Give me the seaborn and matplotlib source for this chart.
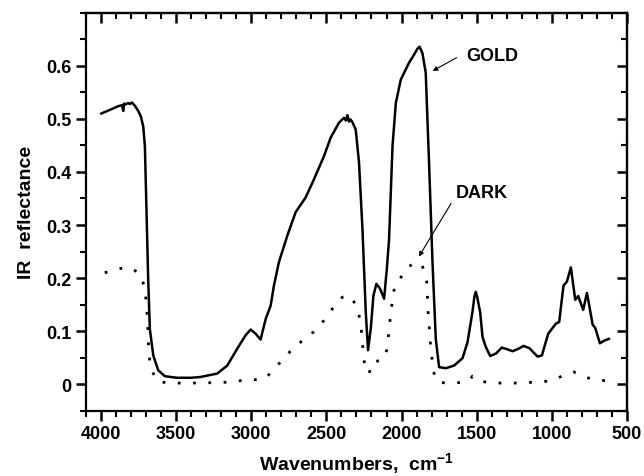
import matplotlib
matplotlib.use("Agg")
import matplotlib.pyplot as plt
from matplotlib.ticker import MultipleLocator, FixedLocator, FuncFormatter
import seaborn as sns

# spectra (wavenumber in cm-1, reflectance)
gold_wn = [4000, 3941, 3885, 3860, 3852, 3847, 3840, 3820, 3808, 3795, 3775, 3752, 3735,
           3719, 3708, 3697, 3686, 3675, 3652, 3619, 3575, 3497, 3400, 3337, 3226, 3160,
           3093, 3038, 3004, 2971, 2938, 2904, 2871, 2849, 2816, 2760, 2705, 2638, 2583,
           2516, 2471, 2416, 2383, 2370, 2360, 2350, 2340, 2327, 2305, 2283, 2260, 2238,
           2223, 2205, 2187, 2167, 2143, 2116, 2098, 2083, 2060, 2038, 2005, 1950, 1917,
           1895, 1880, 1861, 1839, 1817, 1794, 1772, 1750, 1705, 1650, 1594, 1561, 1528,
           1515, 1506, 1497, 1477, 1461, 1439, 1410, 1370, 1333, 1300, 1261, 1220, 1188,
           1150, 1095, 1066, 1024, 973, 951, 922, 900, 873, 844, 824, 791, 766, 728, 711,
           680, 651, 618]
gold_r = [0.510, 0.517, 0.524, 0.526, 0.515, 0.529, 0.527, 0.530, 0.528, 0.531, 0.525,
          0.515, 0.505, 0.486, 0.449, 0.324, 0.198, 0.104, 0.054, 0.026, 0.015, 0.012,
          0.012, 0.0135, 0.020, 0.035, 0.067, 0.092, 0.103, 0.095, 0.084, 0.123, 0.148,
          0.186, 0.230, 0.280, 0.324, 0.352, 0.386, 0.430, 0.465, 0.493, 0.502, 0.497,
          0.507, 0.495, 0.499, 0.494, 0.480, 0.418, 0.292, 0.136, 0.064, 0.104, 0.167,
          0.189, 0.180, 0.161, 0.217, 0.273, 0.449, 0.530, 0.574, 0.606, 0.621, 0.632,
          0.636, 0.624, 0.587, 0.418, 0.230, 0.085, 0.032, 0.030, 0.035, 0.049, 0.079,
          0.136, 0.165, 0.174, 0.165, 0.136, 0.089, 0.070, 0.053, 0.058, 0.069, 0.066,
          0.062, 0.067, 0.072, 0.068, 0.052, 0.054, 0.095, 0.114, 0.117, 0.186, 0.193,
          0.220, 0.159, 0.166, 0.140, 0.172, 0.112, 0.106, 0.077, 0.082, 0.0855]

dark_wn = [3975, 3897, 3841, 3786, 3735, 3708, 3697, 3690, 3684, 3675, 3657, 3624, 3542,
           3400, 3200, 3100, 3026, 2942, 2900, 2871, 2804, 2733, 2660, 2587, 2516, 2460,
           2393, 2334, 2294, 2272, 2260, 2245, 2216, 2194, 2127, 2094, 2083, 2065, 2045,
           2005, 1961, 1905, 1861, 1832, 1823, 1805, 1787, 1761, 1700, 1600, 1550, 1528,
           1500, 1480, 1400, 1200, 1006, 933, 855, 780, 713, 640, 610]
dark_r = [0.210, 0.216, 0.220, 0.217, 0.205, 0.180, 0.148, 0.117, 0.073, 0.042, 0.023,
          0.005, 0.002, 0.002, 0.003, 0.005, 0.009, 0.008, 0.012, 0.022, 0.042, 0.064,
          0.082, 0.098, 0.120, 0.142, 0.164, 0.165, 0.142, 0.117, 0.076, 0.032, 0.020,
          0.042, 0.045, 0.067, 0.104, 0.148, 0.186, 0.201, 0.220, 0.230, 0.223, 0.192,
          0.136, 0.067, 0.023, 0.004, 0.002, 0.003, 0.006, 0.015, 0.012, 0.006, 0.002,
          0.002, 0.006, 0.015, 0.023, 0.0135, 0.008, 0.0065, 0.007]

y_ticks = [0, 0.1, 0.2, 0.3, 0.4, 0.5, 0.6]
y_minor = [-0.05, 0.05, 0.15, 0.25, 0.35, 0.45, 0.55, 0.65, 0.7]

sns.set_style("ticks")
plt.rcParams["font.family"] = ["Liberation Sans", "DejaVu Sans"]
plt.rcParams["font.weight"] = "bold"
plt.rcParams["text.color"] = "black"
plt.rcParams["mathtext.fontset"] = "custom"
plt.rcParams["mathtext.rm"] = "Liberation Sans:bold"
plt.rcParams["mathtext.default"] = "rm"

fig = plt.figure(figsize=(6.44, 4.77), dpi=100)
ax = fig.add_axes([0.1335, 0.137, 0.84, 0.834])

sns.lineplot(x=gold_wn, y=gold_r, ax=ax, color="black", lw=1.8, sort=False)
sns.lineplot(x=dark_wn, y=dark_r, ax=ax, color="black", lw=2.0, sort=False,
             linestyle=(0, (1, 4.5)))

ax.set_xlim(4100, 500)
ax.set_ylim(-0.05, 0.7)

# ticks: outward on left/bottom, inward on top/right
ax.xaxis.set_major_locator(MultipleLocator(500))
ax.xaxis.set_minor_locator(MultipleLocator(100))
ax.yaxis.set_major_locator(FixedLocator(y_ticks))
ax.yaxis.set_minor_locator(FixedLocator(y_minor))
ax.yaxis.set_major_formatter(FuncFormatter(lambda v, p: "0" if abs(v) < 1e-9 else f"{v:.1f}"))
ax.tick_params(which="both", bottom=True, left=True, top=False, right=False,
               color="black", labelcolor="black")
ax.tick_params(which="major", direction="out", length=7, width=1.8, labelsize=13)
ax.tick_params(which="minor", direction="out", length=4, width=1.5)
for side in ["top", "right", "left", "bottom"]:
    ax.spines[side].set_visible(True)
    ax.spines[side].set_linewidth(1.6)
    ax.spines[side].set_color("black")

top = ax.secondary_xaxis("top")
top.xaxis.set_major_locator(MultipleLocator(500))
top.xaxis.set_minor_locator(MultipleLocator(100))
top.tick_params(which="both", top=True, color="black", labeltop=False)
top.tick_params(which="major", direction="in", length=7, width=1.8)
top.tick_params(which="minor", direction="in", length=4, width=1.5)
top.spines["top"].set_linewidth(1.6)
right = ax.secondary_yaxis("right")
right.yaxis.set_major_locator(FixedLocator(y_ticks))
right.yaxis.set_minor_locator(FixedLocator(y_minor))
right.tick_params(which="both", right=True, color="black", labelright=False)
right.tick_params(which="major", direction="in", length=7, width=1.8)
right.tick_params(which="minor", direction="in", length=4, width=1.5)
right.spines["right"].set_linewidth(1.6)

ax.set_xlabel(r"Wavenumbers,  cm$^{-1}$", fontsize=14, fontweight="bold", labelpad=6,
              color="black")
ax.set_ylabel("IR  reflectance", fontsize=14, fontweight="bold", labelpad=8, color="black")

ax.text(1393, 0.619, "GOLD", fontsize=13, fontweight="bold", ha="center", va="center",
        color="black")
ax.annotate("", xy=(1809, 0.588), xytext=(1617, 0.618),
            arrowprops=dict(arrowstyle="-|>", color="black", lw=0.8, mutation_scale=7))
ax.text(1466, 0.362, "DARK", fontsize=13, fontweight="bold", ha="center", va="center",
        color="black")
ax.annotate("", xy=(1894, 0.236), xytext=(1661, 0.345),
            arrowprops=dict(arrowstyle="-|>", color="black", lw=0.8, mutation_scale=7))

fig.savefig("out.png", dpi=100)
